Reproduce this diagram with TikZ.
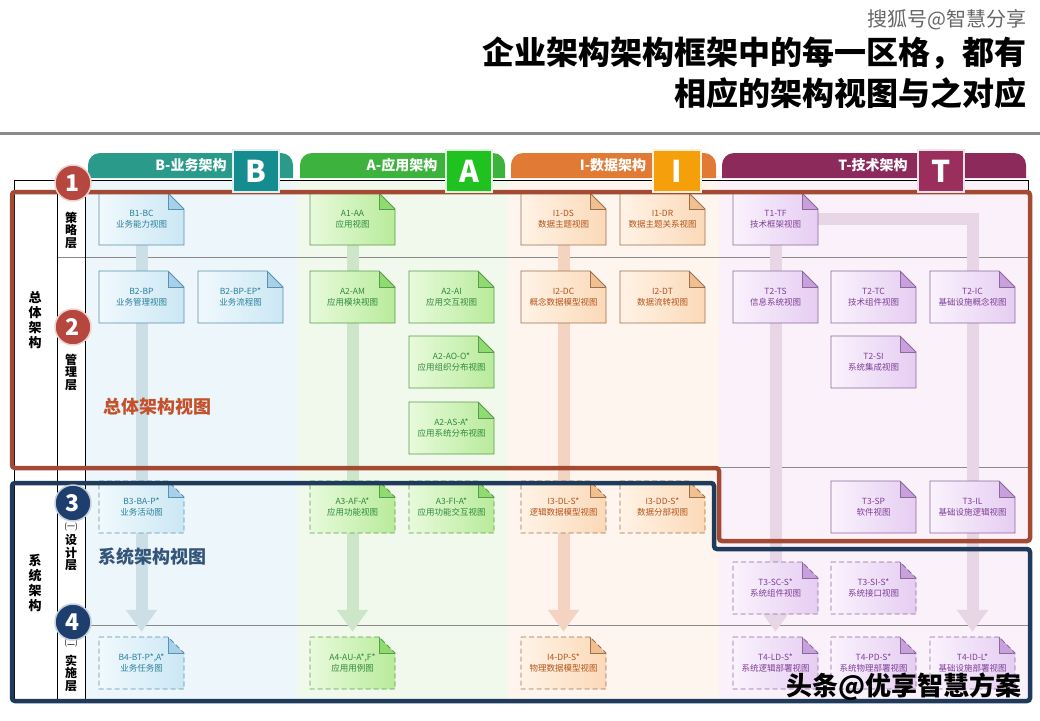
\documentclass[tikz,border=0pt]{standalone}
\usepackage{fontspec}
\setmainfont{Noto Sans CJK SC}
\usetikzlibrary{arrows.meta}
\pgfdeclarelayer{back}
\pgfdeclarelayer{arr}
\pgfsetlayers{back,arr,main}
% colours
\definecolor{TabB}{HTML}{2A9A8A}\definecolor{SqB}{HTML}{148C90}
\definecolor{TabA}{HTML}{3DB33D}\definecolor{SqA}{HTML}{1FC21F}
\definecolor{TabI}{HTML}{E07A34}\definecolor{SqI}{HTML}{F5A00A}
\definecolor{TabT}{HTML}{8C2A5C}\definecolor{SqT}{HTML}{9A2E5C}
\definecolor{FrRed}{HTML}{A24A33}\definecolor{CRed}{HTML}{B5473E}
\definecolor{FrNavy}{HTML}{1F3B5B}\definecolor{CNavy}{HTML}{1E3F6E}
\definecolor{TxRed}{HTML}{C4502C}\definecolor{TxNavy}{HTML}{34557A}
\definecolor{GridG}{HTML}{8A8A8A}
% column tints
\definecolor{BgB}{HTML}{EDF6FA}\definecolor{BgA}{HTML}{F0F9EC}
\definecolor{BgI}{HTML}{FEF6EE}\definecolor{BgT}{HTML}{FBF1FA}
% arrows
\definecolor{ArB}{HTML}{CCDFE6}\definecolor{ArA}{HTML}{CDE6C9}
\definecolor{ArI}{HTML}{F4D3C1}\definecolor{ArT}{HTML}{E8D5E6}
% boxes: a=light, b=dark fill, f=fold, l=line, t=text
\definecolor{Ba}{HTML}{F0F9FD}\definecolor{Bb}{HTML}{CBE7F4}\definecolor{Bf}{HTML}{A8D0E8}\definecolor{Bl}{HTML}{5A90B0}\definecolor{Bt}{HTML}{2A7F9A}
\definecolor{Aa}{HTML}{E8FADC}\definecolor{Ab}{HTML}{B8EB9A}\definecolor{Af}{HTML}{8FDB70}\definecolor{Al}{HTML}{5A9A50}\definecolor{At}{HTML}{2E8A3A}
\definecolor{Ia}{HTML}{FFF3E6}\definecolor{Ib}{HTML}{FBD9B8}\definecolor{If}{HTML}{F2C090}\definecolor{Il}{HTML}{9A7050}\definecolor{It}{HTML}{B5541A}
\definecolor{Ta}{HTML}{FAF2FD}\definecolor{Tb}{HTML}{E6CDF2}\definecolor{Tf}{HTML}{C8A0DC}\definecolor{Tl}{HTML}{8A6A9A}\definecolor{Tt}{HTML}{7D3F96}
\tikzset{
  boxtxt/.style={minimum width=85pt, minimum height=52pt, inner sep=0pt, align=center, font=\fontsize{8.5}{11}\selectfont},
  dsh/.style={dash pattern=on 5pt off 3pt, line width=0.9pt},
  sld/.style={line width=0.9pt},
  circ/.style={circle, minimum size=36pt, inner sep=0pt, text=white, font=\bfseries\fontsize{23}{23}\selectfont, line width=1.5pt},
  tablbl/.style={text=white, font=\bfseries\fontsize{14}{14}\selectfont},
  sqlbl/.style={text=white, font=\bfseries\fontsize{30}{30}\selectfont},
  vlbl/.style={align=center, font=\bfseries\fontsize{13}{15}\selectfont},
  layl/.style={align=center, font=\bfseries\fontsize{12}{12.5}\selectfont},
  flow/.style={line width=12pt, -{Triangle[width=30pt,length=22pt]}, shorten >=5pt},
  gridl/.style={draw=GridG, line width=0.8pt},
}
\newcommand\docbox[7]{%
  \path[left color=#4a, right color=#4b] (#2,#3) -- ++(69,0) -- ++(16,16) -- ++(0,36) -- ++(-85,0) -- cycle;
  \fill[#4f] (#2+69,#3) -- (#2+85,#3+16) -- (#2+69,#3+16) -- cycle;
  \draw[#4l, #5] (#2,#3) -- ++(69,0) -- ++(16,16) -- ++(0,36) -- ++(-85,0) -- cycle;
  \draw[#4l, line width=0.7pt] (#2+69,#3) -- (#2+69,#3+16) -- (#2+85,#3+16);
  \node[boxtxt, text=#4t] (#1) at (#2+42.5,#3+26) {#6\\#7};
}
\begin{document}
\begin{tikzpicture}[x=1pt,y=-1pt]
\useasboundingbox (0,0) rectangle (1040,720);

% backgrounds and grid
\begin{pgfonlayer}{back}
\fill[white] (0,0) rectangle (1040,720);
\fill[BgB] (85,180) rectangle (297,700);
\fill[BgA] (297,180) rectangle (508,700);
\fill[BgI] (508,180) rectangle (719,700);
\fill[BgT] (719,180) rectangle (1028,700);
\draw[gridl] (57,257) -- (1028,257);
\draw[gridl] (57,467) -- (1028,467);
\draw[gridl] (57,625) -- (1028,625);
\end{pgfonlayer}

% title
\node[anchor=east, text=black!60, font=\fontsize{20}{20}\selectfont] (wm) at (1030,20) {搜狐号@智慧分享};
\node[anchor=east, font=\bfseries\fontsize{32}{32}\selectfont] (t1) at (1030,53) {企业架构架构框架中的每一区格，都有};
\node[anchor=east, font=\bfseries\fontsize{32}{32}\selectfont] (t2) at (1030,93) {相应的架构视图与之对应};
\draw[GridG, line width=3pt] (0,133) -- (1040,133);

\draw[black, line width=1pt] (14,700) -- (14,180) -- (1028,180) -- (1028,200);
\draw[black, line width=0.9pt] (57,180) -- (57,700);
\draw[black, line width=0.9pt] (85,180) -- (85,700);

% boxes row 1
\docbox{B1}{99}{193}{B}{sld}{B1-BC}{业务能力视图}
\docbox{A1}{310}{193}{A}{sld}{A1-AA}{应用视图}
\docbox{I1a}{521}{193}{I}{sld}{I1-DS}{数据主题视图}
\docbox{I1b}{620}{193}{I}{sld}{I1-DR}{数据主题关系视图}
\docbox{T1}{733}{193}{T}{sld}{T1-TF}{技术框架视图}
% row 2
\docbox{B2a}{99}{271}{B}{sld}{B2-BP}{业务管理视图}
\docbox{B2b}{198}{271}{B}{sld}{B2-BP-EP*}{业务流程图}
\docbox{A2a}{310}{271}{A}{sld}{A2-AM}{应用模块视图}
\docbox{A2b}{409}{271}{A}{sld}{A2-AI}{应用交互视图}
\docbox{A2c}{409}{336}{A}{sld}{A2-AO-O*}{应用组织分布视图}
\docbox{A2d}{409}{402}{A}{sld}{A2-AS-A*}{应用系统分布视图}
\docbox{I2a}{521}{271}{I}{sld}{I2-DC}{概念数据模型视图}
\docbox{I2b}{620}{271}{I}{sld}{I2-DT}{数据流转视图}
\docbox{T2a}{733}{271}{T}{sld}{T2-TS}{信息系统视图}
\docbox{T2b}{831}{271}{T}{sld}{T2-TC}{技术组件视图}
\docbox{T2c}{930}{271}{T}{sld}{T2-IC}{基础设施概念视图}
\docbox{T2d}{831}{336}{T}{sld}{T2-SI}{系统集成视图}
% row 3
\docbox{B3}{99}{481}{B}{dsh}{B3-BA-P*}{业务活动图}
\docbox{A3a}{310}{481}{A}{dsh}{A3-AF-A*}{应用功能视图}
\docbox{A3b}{409}{481}{A}{dsh}{A3-FI-A*}{应用功能交互视图}
\docbox{I3a}{521}{481}{I}{dsh}{I3-DL-S*}{逻辑数据模型视图}
\docbox{I3b}{620}{481}{I}{dsh}{I3-DD-S*}{数据分部视图}
\docbox{T3a}{831}{481}{T}{sld}{T3-SP}{软件视图}
\docbox{T3b}{930}{481}{T}{sld}{T3-IL}{基础设施逻辑视图}
\docbox{T3c}{733}{562}{T}{dsh}{T3-SC-S*}{系统组件视图}
\docbox{T3d}{831}{562}{T}{dsh}{T3-SI-S*}{系统接口视图}
% row 4
\docbox{B4}{99}{637}{B}{dsh}{B4-BT-P*,A*}{业务任务图}
\docbox{A4}{310}{637}{A}{dsh}{A4-AU-A*,F*}{应用用例图}
\docbox{I4}{521}{637}{I}{dsh}{I4-DP-S*}{物理数据模型视图}
\docbox{T4a}{733}{637}{T}{dsh}{T4-LD-S*}{系统逻辑部署视图}
\docbox{T4b}{831}{637}{T}{dsh}{T4-PD-S*}{系统物理部署视图}
\docbox{T4c}{930}{637}{T}{dsh}{T4-ID-L*}{基础设施部署视图}

% flow arrows behind boxes
\begin{pgfonlayer}{arr}
\draw[flow, draw=ArB] (B1.south) -- (B4.north);
\draw[flow, draw=ArA] (A1.south) -- (A4.north);
\draw[flow, draw=ArI] (I1a.south) -- (I4.north);
\draw[flow, draw=ArT] (T1.south) -- (T4a.north);
\draw[flow, draw=ArT] (T1.east) -| (T4c.north);
\end{pgfonlayer}

% view labels
\node[anchor=west, text=TxRed, font=\bfseries\fontsize{18}{18}\selectfont] (lv1) at (100,407) {总体架构视图};
\node[anchor=west, text=TxNavy, font=\bfseries\fontsize{18}{18}\selectfont] (lv2) at (95,557) {系统架构视图};

% side labels
\node[vlbl] (s1) at (35,320) {总\\体\\架\\构};
\node[vlbl] (s2) at (35,583) {系\\统\\架\\构};
\node[layl] (l1) at (71,230) {策\\略\\层};
\node[layl] (l2) at (71,372) {管\\理\\层};
\node[font=\fontsize{8}{8}\selectfont] (p3) at (71,527) {(一)};
\node[layl] (l3) at (71,553) {设\\计\\层};
\node[font=\fontsize{8}{8}\selectfont] (p4) at (71,643) {(二)};
\node[layl] (l4) at (71,673) {实\\施\\层};

% frames
\draw[FrRed, line width=4.5pt, rounded corners=3pt] (12,192) -- (1030,192) -- (1030,541) -- (719,541) -- (719,468) -- (12,468) -- cycle;
\draw[FrNavy, line width=4.5pt, rounded corners=3pt] (12,483) -- (714,483) -- (714,549) -- (1030,549) -- (1030,701) -- (12,701) -- cycle;

% header tabs
\fill[TabB] (88,178) [rounded corners=12pt] -- (88,153) -- (293,153) [sharp corners] -- (293,178) -- cycle;
\fill[TabA] (300,178) [rounded corners=12pt] -- (300,153) -- (505,153) [sharp corners] -- (505,178) -- cycle;
\fill[TabI] (511,178) [rounded corners=12pt] -- (511,153) -- (716,153) [sharp corners] -- (716,178) -- cycle;
\fill[TabT] (722,178) [rounded corners=12pt] -- (722,153) -- (1026,153) [sharp corners] -- (1026,178) -- cycle;
\node[tablbl] (hB) at (191,165) {B-业务架构};
\node[tablbl] (hA) at (402,165) {A-应用架构};
\node[tablbl] (hI) at (613,165) {I-数据架构};
\node[tablbl] (hT) at (873,165) {T-技术架构};
\filldraw[fill=SqB, draw=white!85!SqB, line width=2pt] (233,150) rectangle (279,192);
\filldraw[fill=SqA, draw=white!85!SqA, line width=2pt] (446,150) rectangle (492,192);
\filldraw[fill=SqI, draw=white!85!SqI, line width=2pt] (653,150) rectangle (701,192);
\filldraw[fill=SqT, draw=white!85!SqT, line width=2pt] (918,150) rectangle (964,192);
\node[sqlbl] (qB) at (256,171) {B};
\node[sqlbl] (qA) at (469,171) {A};
\node[sqlbl] (qI) at (677,171) {I};
\node[sqlbl] (qT) at (941,171) {T};

% number circles
\node[circ, fill=CRed, draw=white!75!CRed] (c1) at (73,183) {1};
\node[circ, fill=CRed, draw=white!75!CRed] (c2) at (73,327) {2};
\node[circ, fill=CNavy, draw=white!75!CNavy] (c3) at (73,503) {3};
\node[circ, fill=CNavy, draw=white!75!CNavy] (c4) at (73,622) {4};

% bottom watermark
\node[anchor=east, font=\bfseries\fontsize{26}{26}\selectfont] (wm2) at (1025,687) {头条@优享智慧方案};
\end{tikzpicture}
\end{document}
